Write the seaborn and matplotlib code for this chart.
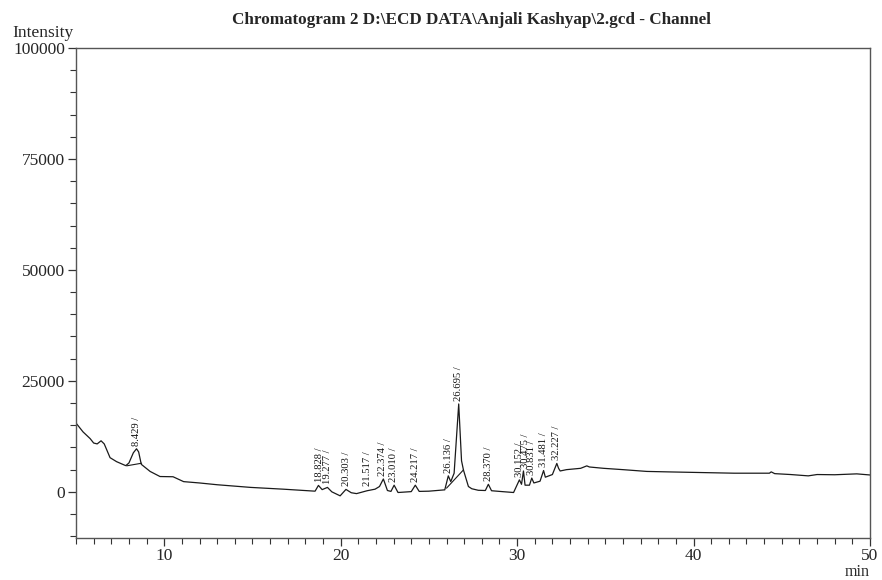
import matplotlib
matplotlib.use("Agg")
import matplotlib.pyplot as plt
from matplotlib.ticker import MultipleLocator
import seaborn as sns
import pandas as pd

# ---- data ----
time_min = [5.0, 5.4, 5.8, 6.0, 6.2, 6.42, 6.6, 6.93, 7.3, 7.82, 8.0, 8.25, 8.43, 8.55, 8.7,
            9.2, 9.76, 10.5, 11.1, 12.0, 13.0, 14.9, 16.75, 18.55, 18.74, 18.95, 19.25, 19.5,
            19.97, 20.3, 20.6, 20.9, 21.5, 21.95, 22.2, 22.42, 22.65, 22.85, 23.03, 23.25,
            24.0, 24.23, 24.45, 25.0, 25.9, 26.1, 26.24, 26.43, 26.69, 26.85, 26.96, 27.24,
            27.43, 27.8, 28.2, 28.37, 28.55, 29.0, 29.8, 30.13, 30.25, 30.36, 30.45, 30.7,
            30.83, 30.95, 31.3, 31.5, 31.6, 32.0, 32.25, 32.35, 32.44, 32.8, 33.6, 33.95,
            34.1, 34.9, 36.0, 37.35, 38.5, 40.4, 42.3, 44.3, 44.4, 44.6, 45.5, 46.5, 47.0,
            48.0, 49.25, 50.0]
intensity = [15500, 13500, 12000, 11000, 10800, 11500, 10800, 7700, 6800, 5900, 6500, 8800,
             9700, 9000, 6200, 4600, 3450, 3400, 2300, 2000, 1600, 1000, 600, 150, 1450, 500,
             1000, 0, -900, 550, -200, -400, 250, 600, 1200, 2900, 300, 100, 1500, -150, 50,
             1500, 100, 150, 450, 3600, 2300, 4200, 19800, 7000, 4900, 1200, 700, 350, 300,
             1700, 250, 100, -150, 2700, 1700, 4700, 1500, 1500, 3100, 2000, 2400, 4800, 3300,
             3900, 6400, 5300, 4700, 5000, 5300, 5850, 5600, 5300, 5000, 4600, 4500, 4350,
             4200, 4200, 4500, 4100, 3900, 3600, 3900, 3850, 4050, 3800]

# integration baselines (start/end time and intensity)
base_t0 = [7.87, 26.0]
base_i0 = [5860, 830]
base_t1 = [8.72, 26.96]
base_i1 = [6450, 4950]

peak_labels = ["8.429", "18.828", "19.277", "20.303", "21.517", "22.374", "23.010", "24.217",
               "26.136", "26.695", "28.370", "30.152", "30.475", "30.831", "31.481", "32.227"]
peak_heights = [9700, 1450, 1000, 550, 600, 2900, 1500, 1500, 3600, 19800, 1700, 2700, 4700,
                3100, 4800, 6400]

x_ticks = [10, 20, 30, 40, 50]
y_ticks = [0, 25000, 50000, 75000, 100000]

title = r"Chromatogram 2 D:\ECD DATA\Anjali Kashyap\2.gcd - Channel"

# ---- plot ----
sns.set_style("ticks")
plt.rcParams["font.family"] = ["Liberation Serif", "DejaVu Serif"]

fig = plt.figure(figsize=(8.82, 5.80), dpi=100)
ax = fig.add_axes([76 / 882, 1 - 538 / 580, (870 - 76) / 882, (538 - 48) / 580])

df = pd.DataFrame({"t": time_min, "I": intensity})
sns.lineplot(data=df, x="t", y="I", ax=ax, color="#1a1a1a", linewidth=0.9,
             sort=False, estimator=None)

for a, b, c, d in zip(base_t0, base_i0, base_t1, base_i1):
    ax.plot([a, c], [b, d], color="#1a1a1a", linewidth=0.8)

for lab, h in zip(peak_labels, peak_heights):
    t = float(lab)
    ax.text(t, h + 700, lab + " /", rotation=90, ha="center", va="bottom",
            fontsize=7.6, color="#111111")

ax.set_xlim(5, 50)
ax.set_ylim(-10400, 100000)
ax.set_xticks(x_ticks)
ax.set_yticks(y_ticks)
ax.set_yticklabels([str(v) for v in y_ticks])
ax.xaxis.set_minor_locator(MultipleLocator(1))
ax.yaxis.set_minor_locator(MultipleLocator(5000))
ax.tick_params(axis="both", which="major", length=6, width=0.9, labelsize=12.5,
               color="#333333", pad=2)
ax.tick_params(axis="x", which="major", pad=1)
ax.tick_params(axis="both", which="minor", length=4, width=0.8, color="#333333")
ax.set_xlabel("")
ax.set_ylabel("")
for s in ax.spines.values():
    s.set_visible(True)
    s.set_color("#555555")
    s.set_linewidth(1.0)

fig.text(471 / 882, 1 - 20 / 580, title, ha="center", va="center", fontsize=12.3,
         fontweight="bold")
fig.text(12 / 882, 1 - 33 / 580, "Intensity", ha="left", va="center", fontsize=12.5)
fig.text(857 / 882, 1 - 572 / 580, "min", ha="center", va="center", fontsize=11.5)

fig.savefig("out.png", dpi=100)
